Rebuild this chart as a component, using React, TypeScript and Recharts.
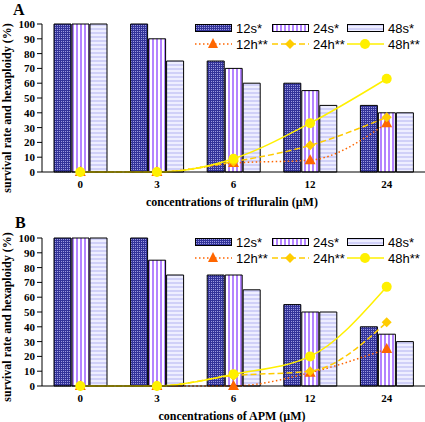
import { ComposedChart, Bar, Line, XAxis, YAxis } from 'recharts'

// concentrations (µM)
const concentrations = ['0', '3', '6', '12', '24']
const yTicks = [0, 10, 20, 30, 40, 50, 60, 70, 80, 90, 100]

// panel A: trifluralin
const triS12 = [100, 100, 75, 60, 45]
const triS24 = [100, 90, 70, 55, 40]
const triS48 = [100, 75, 60, 45, 40]
const triH12 = [0, 0, 6, 8, 33]
const triH24 = [0, 0, 7, 18, 37]
const triH48 = [0, 0, 9, 33, 63]

// panel B: APM
const apmS12 = [100, 100, 75, 55, 40]
const apmS24 = [100, 85, 75, 50, 35]
const apmS48 = [100, 75, 65, 50, 30]
const apmH12 = [0, 0, 0, 9, 25]
const apmH24 = [0, 0, 7, 10, 43]
const apmH48 = [0, 0, 8, 20, 67]

const C12H = '#FF6600'
const C24H = '#FFCC00'
const C48H = '#FFF000'

const serif = '"Liberation Serif", "DejaVu Serif", serif'
const sans = '"Liberation Sans", Arial, sans-serif'

function buildRows(s12: number[], s24: number[], s48: number[], h12: number[], h24: number[], h48: number[]) {
  return concentrations.map((c, i) => ({
    name: c,
    s12: s12[i],
    s24: s24[i],
    s48: s48[i],
    h12: h12[i],
    h24: h24[i],
    h48: h48[i]
  }))
}

const triangleDot = (props: any) => {
  const { cx, cy, index } = props
  return <path key={`t-${index}`} d={`M${cx},${cy - 6} L${cx + 5.5},${cy + 4} L${cx - 5.5},${cy + 4} Z`} fill={C12H} />
}

const diamondDot = (props: any) => {
  const { cx, cy, index } = props
  return <path key={`d-${index}`} d={`M${cx},${cy - 5} L${cx + 5},${cy} L${cx},${cy + 5} L${cx - 5},${cy} Z`} fill={C24H} />
}

const circleDot = (props: any) => {
  const { cx, cy, index } = props
  return <circle key={`c-${index}`} cx={cx} cy={cy} r={5} fill={C48H} />
}

function Patterns() {
  return (
    <svg width={0} height={0} style={{ position: 'absolute', left: 0, top: 0 }}>
      <defs>
        <pattern id="pS12" width={2} height={2} patternUnits="userSpaceOnUse">
          <rect width={2} height={2} fill="#333399" />
          <rect x={1} y={1} width={1} height={1} fill="#9A9AE0" />
        </pattern>
        <pattern id="pS24" width={4} height={4} patternUnits="userSpaceOnUse">
          <rect width={4} height={4} fill="#FFFFFF" />
          <rect x={0} width={2} height={4} fill="#B383FF" />
        </pattern>
        <pattern id="pS48" width={4} height={4} patternUnits="userSpaceOnUse">
          <rect width={4} height={4} fill="#EEEEFF" />
          <rect y={0} width={4} height={2} fill="#D0D0F8" />
        </pattern>
      </defs>
    </svg>
  )
}

function Legend({ top }: { top: number }) {
  const swatch = (fill: string) => (
    <svg width={37} height={8} style={{ display: 'block' }}>
      <rect x={0.5} y={0.5} width={36} height={7} fill={fill} stroke="#000" strokeWidth={1} />
    </svg>
  )
  const lineKey = (color: string, dash: string, marker: JSX.Element) => (
    <svg width={37} height={12} style={{ display: 'block' }}>
      <line x1={0} y1={6} x2={37} y2={6} stroke={color} strokeWidth={1.5} strokeDasharray={dash} />
      {marker}
    </svg>
  )
  const items = [
    { x: 195, y: 0, icon: swatch('url(#pS12)'), label: '12s*' },
    { x: 272, y: 0, icon: swatch('url(#pS24)'), label: '24s*' },
    { x: 347, y: 0, icon: swatch('url(#pS48)'), label: '48s*' },
    { x: 195, y: 16, icon: lineKey(C12H, '1.5 2.5', <path d="M18,0 L23,10 L13,10 Z" fill={C12H} />), label: '12h**' },
    { x: 272, y: 16, icon: lineKey(C24H, '6 3', <path d="M18,1 L23,6 L18,11 L13,6 Z" fill={C24H} />), label: '24h**' },
    { x: 347, y: 16, icon: lineKey(C48H, '', <circle cx={18} cy={6} r={5} fill={C48H} />), label: '48h**' }
  ]
  return (
    <>
      {items.map((it) => (
        <div
          key={it.label}
          style={{
            position: 'absolute',
            left: it.x,
            top: top + it.y,
            display: 'flex',
            alignItems: 'center',
            gap: 4,
            fontFamily: sans,
            fontSize: 13,
            height: 12
          }}
        >
          {it.icon}
          <span>{it.label}</span>
        </div>
      ))}
    </>
  )
}

function Panel({ rows, height, top, plotTop }: any) {
  return (
    <div style={{ position: 'absolute', left: 0, top }}>
      <ComposedChart
        width={425}
        height={height}
        data={rows}
        margin={{ top: plotTop, right: 0, left: 0, bottom: 0 }}
        barSize={17}
        barGap={1}
      >
        <XAxis
          dataKey="name"
          height={height - plotTop - 148}
          tickLine={false}
          axisLine={{ stroke: '#000', strokeWidth: 1 }}
          tick={{ fill: '#000', fontFamily: serif, fontWeight: 'bold', fontSize: 11 }}
          tickMargin={2}
        />
        <YAxis
          width={42}
          domain={[0, 100]}
          ticks={yTicks}
          interval={0}
          tickSize={5}
          axisLine={{ stroke: '#000', strokeWidth: 1 }}
          tickLine={{ stroke: '#000' }}
          tick={{ fill: '#000', fontFamily: serif, fontWeight: 'bold', fontSize: 11 }}
        />
        <Bar dataKey="s12" fill="url(#pS12)" stroke="#000" strokeWidth={1} isAnimationActive={false} />
        <Bar dataKey="s24" fill="url(#pS24)" stroke="#000" strokeWidth={1} isAnimationActive={false} />
        <Bar dataKey="s48" fill="url(#pS48)" stroke="#000" strokeWidth={1} isAnimationActive={false} />
        <Line type="monotone" dataKey="h12" stroke={C12H} strokeWidth={1.5} strokeDasharray="1.5 2.5" dot={triangleDot} isAnimationActive={false} />
        <Line type="monotone" dataKey="h24" stroke={C24H} strokeWidth={1.5} strokeDasharray="6 3" dot={diamondDot} isAnimationActive={false} />
        <Line type="monotone" dataKey="h48" stroke={C48H} strokeWidth={1.5} dot={circleDot} isAnimationActive={false} />
      </ComposedChart>
    </div>
  )
}

function Titles() {
  const yTitle = (cy: number) => (
    <text
      transform={`translate(11, ${cy}) rotate(-90)`}
      textAnchor="middle"
      fontFamily={serif}
      fontWeight="bold"
      fontSize={12}
      fill="#000"
    >
      survival rate and hexaploidy (%)
    </text>
  )
  const xTitle = (y: number, label: string) => (
    <text x={232} y={y} textAnchor="middle" fontFamily={serif} fontWeight="bold" fontSize={12} fill="#000">
      {label}
    </text>
  )
  return (
    <svg width={425} height={422} style={{ position: 'absolute', left: 0, top: 0, pointerEvents: 'none' }}>
      <text x={13} y={15} fontFamily={serif} fontWeight="bold" fontSize={16} fill="#000">A</text>
      <text x={15} y={228} fontFamily={serif} fontWeight="bold" fontSize={16} fill="#000">B</text>
      {yTitle(108)}
      {yTitle(317)}
      {xTitle(206, 'concentrations of trifluralin (µM)')}
      {xTitle(420, 'concentrations of APM (µM)')}
    </svg>
  )
}

export default function App() {
  const rowsA = buildRows(triS12, triS24, triS48, triH12, triH24, triH48)
  const rowsB = buildRows(apmS12, apmS24, apmS48, apmH12, apmH24, apmH48)
  return (
    <div style={{ position: 'absolute', left: 0, top: 0, width: 425, height: 422, background: '#fff' }}>
      <Patterns />
      <Panel rows={rowsA} height={210} top={0} plotTop={24} />
      <Panel rows={rowsB} height={212} top={210} plotTop={28} />
      <Legend top={22} />
      <Legend top={236} />
      <Titles />
    </div>
  )
}
